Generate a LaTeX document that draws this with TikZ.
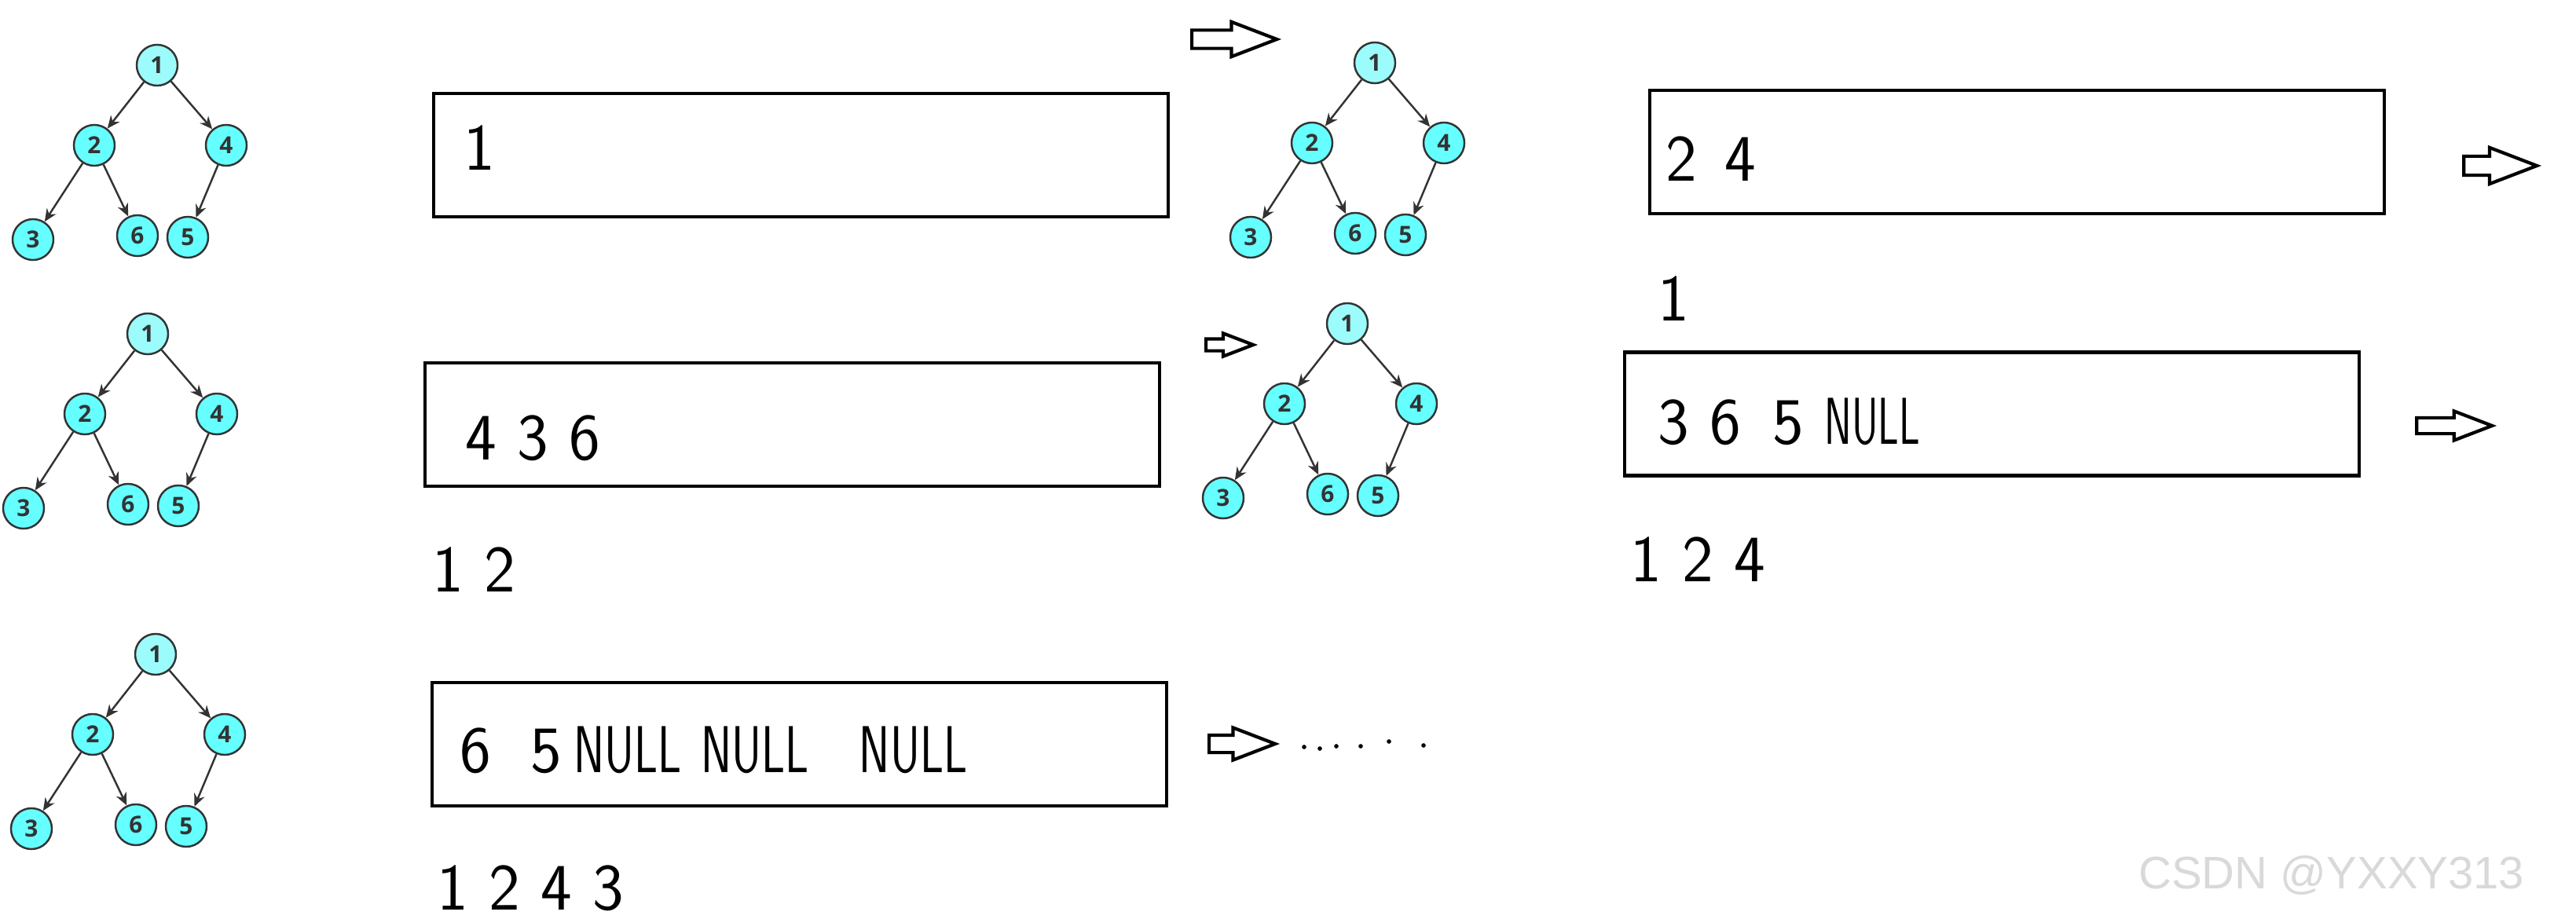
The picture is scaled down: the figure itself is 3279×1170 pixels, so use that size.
\documentclass[tikz,border=0pt]{standalone}
\usepackage{fontspec}
\usepackage{graphicx}
\usetikzlibrary{arrows.meta,positioning,shapes.arrows}
\newfontfamily\treefont{Open Sans}
\newfontfamily\markfont{Liberation Sans}
\definecolor{nodecyan}{HTML}{66FFFF}
\definecolor{rootcyan}{HTML}{9CFCFC}
\definecolor{inkgray}{HTML}{333333}
\newcommand{\nullword}{\scalebox{0.7}[1]{NULL}}

\begin{document}
\begin{tikzpicture}[x=0.01cm, y=-0.01cm,
  leaf/.style={circle, draw=inkgray, line width=0.7pt, fill=nodecyan, minimum size=0.52cm, inner sep=0pt, font=\treefont\bfseries\fontsize{8.5}{8.5}\selectfont, text=inkgray},
  root/.style={leaf, fill=rootcyan},
  edge/.style={-{Stealth[length=1.6mm,width=1.4mm]}, line width=0.7pt, draw=inkgray},
  queue/.style={draw, line width=1.2pt, minimum width=9.35cm, minimum height=1.57cm, inner sep=0pt},
  hand/.style={anchor=base west, inner sep=0pt, font=\sffamily\fontsize{24}{24}\selectfont},
  bigarr/.style={single arrow, draw, line width=1.2pt, inner xsep=0pt, single arrow tip angle=42, anchor=tail},
]
\useasboundingbox (0,0) rectangle (3279,1170);
\fill[white] (0,0) rectangle (3279,1170);

% the five copies of the tree
\foreach \t/\rx/\ry in {a/200/83, b/188/425, c/198/833, d/1750/80, e/1715/412}{
  \begin{scope}[shift={(\rx,\ry)}]
    \node[root] (\t1) at (0,0) {1};
    \node[leaf] (\t2) at (-80,102) {2};
    \node[leaf] (\t4) at (88,102) {4};
    \node[leaf] (\t3) at (-158,222) {3};
    \node[leaf] (\t6) at (-25,217) {6};
    \node[leaf] (\t5) at (39,219) {5};
  \end{scope}
  \draw[edge] (\t1) -- (\t2);
  \draw[edge] (\t1) -- (\t4);
  \draw[edge] (\t2) -- (\t3);
  \draw[edge] (\t2) -- (\t6);
  \draw[edge] (\t4) -- (\t5);
}

% queue boxes
\node[queue] (q1) at (1019.5,197.5) {};
\node[queue] (q2) at (1008.5,540.5) {};
\node[queue] (q3) at (1017.5,947.5) {};
\node[queue] (q4) at (2567.5,193.5) {};
\node[queue] (q5) at (2535.5,527) {};

\node[hand] (q1txt) at (590,217) {1};
\node[hand] (q2txt) at (592,585) {4 3 6};
\node[hand] (q3txt) at (585,983) {6\hspace{0.5cm}5\hspace{0.15cm}\nullword\hspace{0.25cm}\nullword\hspace{0.64cm}\nullword};
\node[hand] (q4txt) at (2120,230) {2\hspace{0.35cm}4};
\node[hand] (q5txt) at (2110,565) {3 6\hspace{0.4cm}5 \scalebox{0.62}[1]{NULL}};

% visited order
\node[hand] (seen2) at (550,753) {1 2};
\node[hand] (seen4) at (2110,408) {1};
\node[hand] (seen5) at (2075,740) {1 2 4};
\node[hand] (seen3) at (556,1158) {1 2 4 3};

% step arrows
\node[bigarr, minimum height=1.08cm, minimum width=0.40cm, inner ysep=0.095cm, single arrow head extend=0.105cm] (go1) at (1515,50) {};
\node[bigarr, minimum height=0.60cm, minimum width=0.25cm, inner ysep=0.055cm, single arrow head extend=0.07cm] (go2) at (1533,439) {};
\node[bigarr, minimum height=0.93cm, minimum width=0.42cm, inner ysep=0.10cm, single arrow head extend=0.11cm] (go4) at (3134,211) {};
\node[bigarr, minimum height=0.96cm, minimum width=0.33cm, inner ysep=0.08cm, single arrow head extend=0.085cm] (go5) at (3074,542) {};
\node[bigarr, minimum height=0.84cm, minimum width=0.37cm, inner ysep=0.09cm, single arrow head extend=0.095cm] (go3) at (1537,947) {};
\foreach \dx/\dy in {1660/951, 1680/953, 1701/950, 1732/950, 1768/944, 1812/949}
  \fill (\dx,\dy) circle[radius=0.8pt];

\node[anchor=base east, inner sep=0pt, font=\markfont\fontsize{16.5}{16.5}\selectfont, text=gray!30] (mark) at (3214,1131) {CSDN @YXXY313};
\end{tikzpicture}
\end{document}
